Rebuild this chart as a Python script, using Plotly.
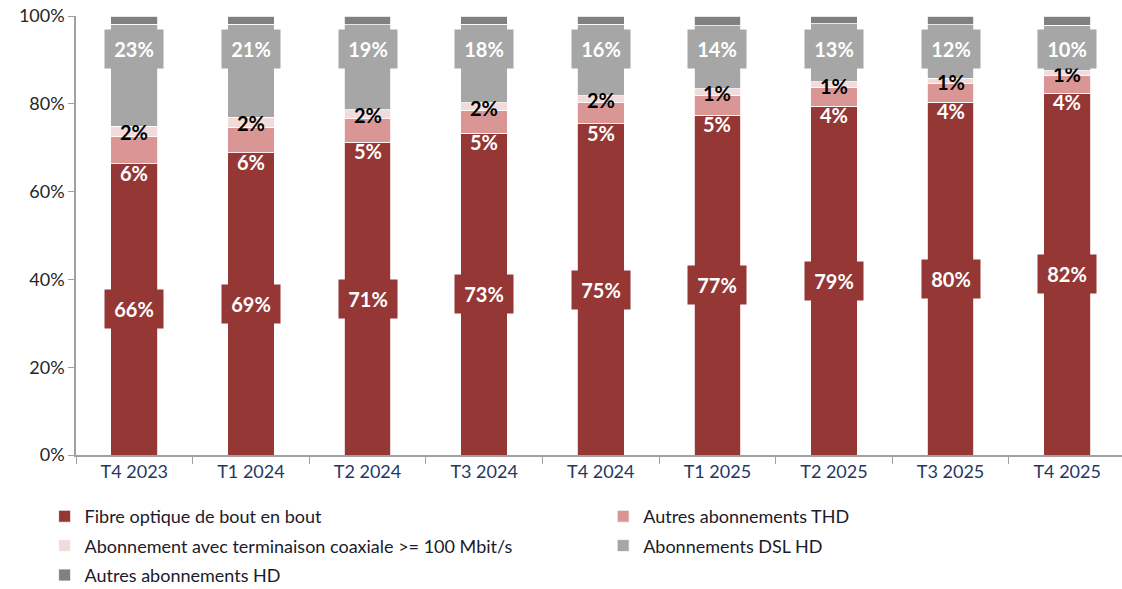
import plotly.graph_objects as go

categories = ["T4 2023", "T1 2024", "T2 2024", "T3 2024", "T4 2024",
              "T1 2025", "T2 2025", "T3 2025", "T4 2025"]
fibre = [66.4, 68.9, 71.2, 73.3, 75.4, 77.4, 79.4, 80.4, 82.4]
thd = [6.2, 5.8, 5.4, 5.2, 4.8, 4.6, 4.3, 4.2, 4.0]
coax = [2.3, 2.2, 2.0, 1.7, 1.6, 1.4, 1.3, 1.2, 1.1]
dsl = [23.2, 21.2, 19.4, 17.9, 16.3, 14.4, 13.2, 12.2, 10.4]
autres_hd = [1.9, 1.9, 2.0, 1.9, 1.9, 2.2, 1.8, 2.0, 2.1]
y_ticks = [0, 20, 40, 60, 80, 100]
y_tick_labels = ["0%", "20%", "40%", "60%", "80%", "100%"]

names = ["Fibre optique de bout en bout", "Autres abonnements THD",
         "Abonnement avec terminaison coaxiale >= 100 Mbit/s",
         "Abonnements DSL HD", "Autres abonnements HD"]
colors = ["#953735", "#D99694", "#F2DCDB", "#A6A6A6", "#808080"]
series = [fibre, thd, coax, dsl, autres_hd]
legend_of = ["legend", "legend2", "legend", "legend2", "legend"]

FONT = "Lato, 'Open Sans', sans-serif"

fig = go.Figure()
for i, (nm, col, vals, lg) in enumerate(zip(names, colors, series, legend_of)):
    fig.add_trace(go.Bar(
        x=categories, y=vals, name=nm,
        marker=dict(color=col, line=dict(color="white", width=0.8)),
        width=0.4, legend=lg, legendgroup="g%d" % i,
        hoverinfo="skip",
    ))

annotations = []
for i, cat in enumerate(categories):
    # fibre label (boxed)
    annotations.append(dict(
        x=cat, y=fibre[i] / 2, xref="x", yref="y",
        text="%d%%" % round(fibre[i]), showarrow=False,
        font=dict(family=FONT, size=20, color="white", weight="bold"),
        bgcolor=colors[0], width=56, height=36,
    ))
    # THD label
    annotations.append(dict(
        x=cat, y=fibre[i], xref="x", yref="y", yshift=-9,
        text="%d%%" % round(thd[i]), showarrow=False,
        font=dict(family=FONT, size=20, color="white", weight="bold"),
    ))
    # coax label
    annotations.append(dict(
        x=cat, y=fibre[i] + thd[i] + coax[i] / 2, xref="x", yref="y", yshift=-1,
        text="%d%%" % round(coax[i]), showarrow=False,
        font=dict(family=FONT, size=20, color="black", weight="bold"),
    ))
    # DSL label (boxed)
    annotations.append(dict(
        x=cat, y=92.4, xref="x", yref="y",
        text="%d%%" % round(dsl[i]), showarrow=False,
        font=dict(family=FONT, size=20, color="white", weight="bold"),
        bgcolor=colors[3], width=56, height=36,
    ))

fig.update_layout(
    width=1122, height=589,
    margin=dict(l=76, r=0, t=16, b=134, autoexpand=False),
    barmode="stack", bargap=0.6,
    plot_bgcolor="white", paper_bgcolor="white",
    font=dict(family=FONT),
    annotations=annotations,
    showlegend=True,
    legend=dict(
        x=-0.03, xanchor="left", y=-0.098, yanchor="top",
        orientation="v", traceorder="grouped", tracegroupgap=3,
        font=dict(family=FONT, size=18, color="#1b1b2b"),
        bgcolor="rgba(0,0,0,0)",
    ),
    legend2=dict(
        x=0.504, xanchor="left", y=-0.098, yanchor="top",
        orientation="v", traceorder="grouped", tracegroupgap=3,
        font=dict(family=FONT, size=18, color="#1b1b2b"),
        bgcolor="rgba(0,0,0,0)",
    ),
    xaxis=dict(
        range=[-0.5, 8.47], showline=True, linecolor="#A0A0A0", linewidth=1.5,
        ticks="outside", tickson="boundaries", ticklen=7, tickcolor="#A0A0A0",
        tickfont=dict(family=FONT, size=18, color="#1F3864"),
        showgrid=False, fixedrange=True,
    ),
    yaxis=dict(
        range=[0, 100], tickvals=y_ticks, ticktext=y_tick_labels,
        showline=True, linecolor="#A0A0A0", linewidth=1.5,
        ticks="outside", ticklen=6, tickcolor="#A0A0A0",
        tickfont=dict(family=FONT, size=18, color="#262626"),
        showgrid=False, zeroline=False,
    ),
)

fig.write_html(
    "out.html",
    config={"displayModeBar": False},
    post_script="document.body.style.margin='0';document.body.style.overflow='hidden';",
)
